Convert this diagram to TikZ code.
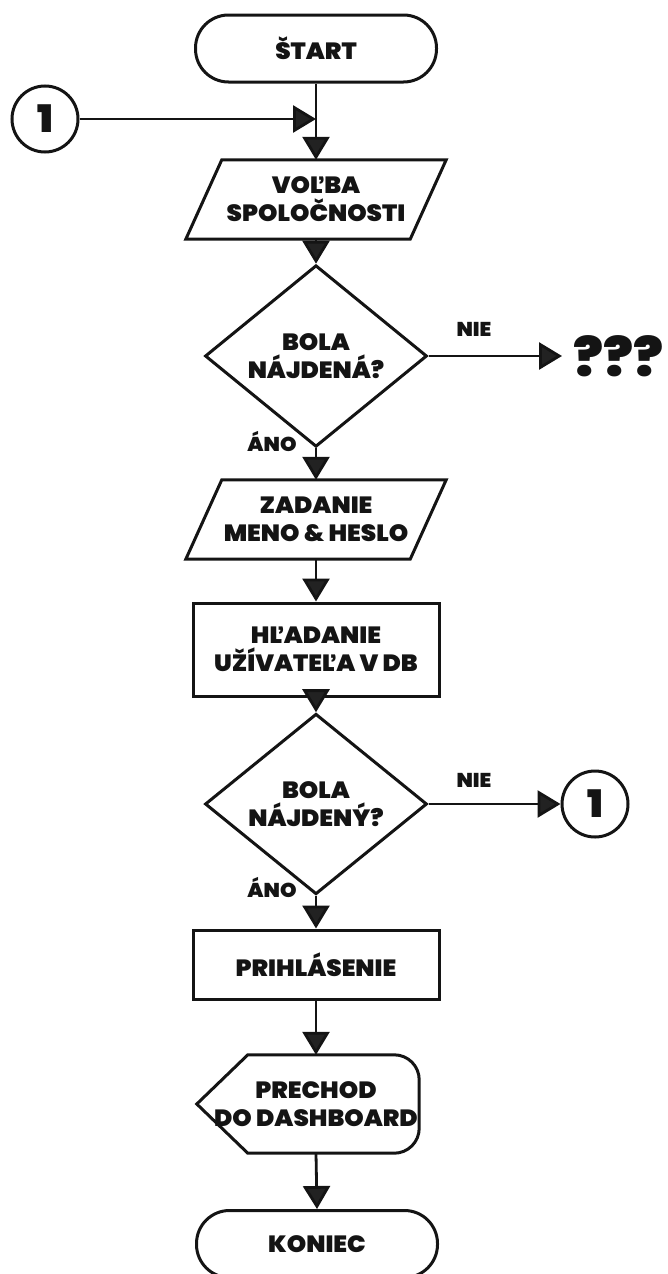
\documentclass[tikz,border=0pt]{standalone}
\usepackage{fontspec}
\setmainfont{Poppins Black}[FakeStretch=1.05]
\usetikzlibrary{arrows.meta,shapes.geometric}

\definecolor{ink}{HTML}{141414}
\definecolor{tipgray}{HTML}{222222}

\tikzset{
  base/.style={font=\fontsize{23.5}{28}\selectfont, text=ink, align=center, inner sep=0pt},
  outline/.style={draw=ink, line width=3pt},
  terminal/.style={base, outline, rectangle, rounded corners=33pt, minimum width=241pt, minimum height=67pt},
  process/.style={base, outline, rectangle, minimum width=246pt},
  decision/.style={base, outline, diamond, minimum width=222pt, minimum height=138pt},
  iobox/.style={base, rectangle, minimum width=224pt, minimum height=79pt},
  showbox/.style={base, rectangle, minimum width=206pt, minimum height=98pt},
  connector/.style={base, outline, circle, minimum size=66pt, font=\fontsize{38}{38}\selectfont},
  flow/.style={draw=ink, line width=2.8pt, -{Triangle[length=23pt,width=27pt,fill=tipgray]}},
  answer/.style={base, font=\fontsize{20}{20}\selectfont},
}

\begin{document}
\begin{tikzpicture}[x=1pt,y=1pt]
  \useasboundingbox (0,0) rectangle (668,-1274);
  \clip (0,0) rectangle (668,-1274);

  % --- nodes ---
  \node[terminal] (start) at (316,-48.5) {ŠTART};
  \node[connector] (back) at (45,-119) {1};
  \coordinate (merge) at (316,-119);

  \node[iobox] (company) at (316,-199.5) {VOĽBA\\SPOLOČNOSTI};
  \draw[outline] ([xshift=18pt]company.north west) -- ([xshift=18pt]company.north east)
    -- ([xshift=-18pt]company.south east) -- ([xshift=-18pt]company.south west) -- cycle;

  \node[decision] (found1) at (316,-356) {BOLA\\NÁJDENÁ?};
  \node[base, anchor=west, inner xsep=11pt, font=\fontsize{53}{53}\selectfont] (unknown) at (562,-356) {???};

  \node[iobox] (login) at (316,-519.5) {ZADANIE\\MENO \& HESLO};
  \draw[outline] ([xshift=18pt]login.north west) -- ([xshift=18pt]login.north east)
    -- ([xshift=-18pt]login.south east) -- ([xshift=-18pt]login.south west) -- cycle;

  \node[process, minimum height=93pt] (search) at (316,-649.5) {HĽADANIE\\UŽÍVATEĽA V DB};

  \node[decision] (found2) at (316,-804) {BOLA\\NÁJDENÝ?};
  \node[connector] (again) at (595,-804) {1};

  \node[process, minimum height=69pt] (signin) at (316,-964.5) {PRIHLÁSENIE};

  \node[showbox] (dash) at (316,-1104) {PRECHOD\\DO DASHBOARD};
  \draw[outline] ([xshift=-16pt]dash.west) -- ([xshift=35pt]dash.north west)
    -- ([xshift=-25pt]dash.north east) arc[start angle=90, end angle=0, radius=25pt]
    -- ([yshift=25pt]dash.south east) arc[start angle=0, end angle=-90, radius=25pt]
    -- ([xshift=35pt]dash.south west) -- cycle;

  \node[terminal] (finish) at (317,-1244) {KONIEC};

  % --- branch labels ---
  \node[answer] at (474,-329) {NIE};
  \node[answer] at (272,-441) {ÁNO};
  \node[answer] at (474,-780) {NIE};
  \node[answer] at (272,-887) {ÁNO};

  % --- connectors ---
  \draw[flow] (start.south) -- (company.north);
  \draw[flow] (back.east) -- (merge);
  \draw[flow] (company.south) -- (found1.north);
  \draw[flow] (found1.east) -- (unknown.west);
  \draw[flow] (found1.south) -- (login.north);
  \draw[flow] (login.south) -- (search.north);
  \draw[flow] (search.south) -- (found2.north);
  \draw[flow] (found2.east) -- (again.west);
  \draw[flow] (found2.south) -- (signin.north);
  \draw[flow] (signin.south) -- (dash.north);
  \draw[flow] (dash.south) -- (finish.north);
\end{tikzpicture}
\end{document}
